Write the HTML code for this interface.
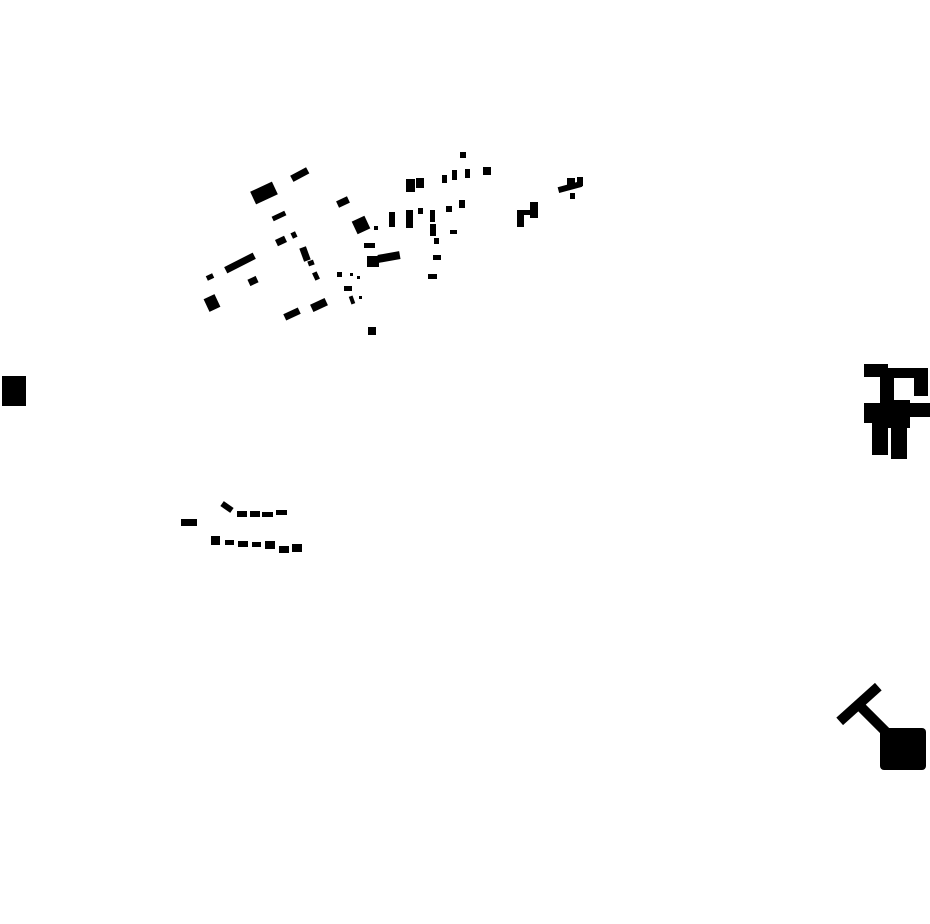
<!DOCTYPE html>
<html><head><style>html,body{margin:0;padding:0;background:#fff;}svg{display:block}</style></head>
<body>
<svg width="930" height="924" viewBox="0 0 930 924" xmlns="http://www.w3.org/2000/svg">
<g fill="#000">
<!-- main cluster -->
<rect x="-12" y="-7" width="24" height="14" transform="translate(264,193) rotate(-25)"/>
<rect x="-9" y="-4" width="18" height="7" transform="translate(300,175) rotate(-28)"/>
<rect x="-6" y="-3.5" width="12" height="7" transform="translate(343,202) rotate(-25)"/>
<rect x="-7" y="-2.5" width="14" height="5" transform="translate(279,216) rotate(-25)"/>
<rect x="-5" y="-3.5" width="10" height="7" transform="translate(281,241) rotate(-25)"/>
<rect x="-2.5" y="-3" width="5" height="6" transform="translate(294,235) rotate(-25)"/>
<rect x="-16" y="-3.5" width="32" height="7" transform="translate(240,263) rotate(-27)"/>
<rect x="-3.5" y="-2.5" width="7" height="5" transform="translate(210,277) rotate(-25)"/>
<rect x="-4.5" y="-3.5" width="9" height="7" transform="translate(253,281) rotate(-25)"/>
<rect x="-6" y="-7" width="12" height="14" transform="translate(212,303) rotate(-25)"/>
<rect x="-3.5" y="-7" width="7" height="14" transform="translate(305,254) rotate(-20)"/>
<rect x="-3" y="-2.5" width="6" height="5" transform="translate(311,263) rotate(-20)"/>
<rect x="-2.5" y="-4" width="5" height="8" transform="translate(316,276) rotate(-25)"/>
<rect x="-8" y="-3.5" width="16" height="7" transform="translate(292,314) rotate(-25)"/>
<rect x="-8" y="-4" width="16" height="8" transform="translate(319,305) rotate(-25)"/>
<rect x="-7" y="-7" width="14" height="14" transform="translate(361,225) rotate(-25)"/>
<rect x="374" y="226" width="4" height="4"/>
<rect x="364" y="243" width="11" height="5"/>
<rect x="367" y="256" width="12" height="11"/>
<rect x="-11" y="-4" width="22" height="8" transform="translate(389,257) rotate(-10)"/>
<rect x="337" y="272" width="5" height="5"/>
<rect x="350" y="273" width="3" height="3"/>
<rect x="357" y="276" width="3" height="3"/>
<rect x="344" y="286" width="8" height="5"/>
<rect x="-2" y="-4" width="4" height="8" transform="translate(352,300) rotate(-20)"/>
<rect x="359" y="296" width="3" height="3"/>
<rect x="368" y="327" width="8" height="8"/>
<rect x="389" y="212" width="6" height="15"/>
<rect x="406" y="210" width="7" height="18"/>
<rect x="418" y="208" width="5" height="6"/>
<rect x="430" y="210" width="5" height="12"/>
<rect x="430" y="224" width="6" height="12"/>
<rect x="434" y="238" width="5" height="6"/>
<rect x="446" y="206" width="6" height="6"/>
<rect x="459" y="200" width="6" height="8"/>
<rect x="450" y="230" width="7" height="4"/>
<rect x="433" y="255" width="8" height="5"/>
<rect x="428" y="274" width="9" height="5"/>
<rect x="406" y="179" width="9" height="13"/>
<rect x="416" y="178" width="8" height="10"/>
<rect x="442" y="175" width="5" height="8"/>
<rect x="452" y="170" width="5" height="10"/>
<rect x="465" y="169" width="5" height="9"/>
<rect x="460" y="152" width="6" height="6"/>
<rect x="483" y="167" width="8" height="8"/>
<rect x="517" y="210" width="7" height="17"/>
<rect x="520" y="210" width="16" height="5"/>
<rect x="530" y="202" width="8" height="16"/>
<rect x="-12" y="-3" width="24" height="6" transform="translate(570,187) rotate(-15)"/>
<rect x="567" y="178" width="8" height="10"/>
<rect x="577" y="177" width="6" height="9"/>
<rect x="570" y="193" width="5" height="6"/>
<!-- left edge -->
<rect x="2" y="376" width="24" height="30"/>
<!-- right top -->
<rect x="864" y="364" width="24" height="13"/>
<rect x="880" y="368" width="48" height="10"/>
<rect x="914" y="372" width="14" height="24"/>
<rect x="880" y="375" width="14" height="32"/>
<rect x="864" y="403" width="16" height="20"/>
<rect x="864" y="403" width="66" height="14"/>
<rect x="880" y="400" width="30" height="28"/>
<rect x="872" y="412" width="16" height="43"/>
<rect x="891" y="412" width="16" height="47"/>
<!-- bottom right -->
<rect x="-26" y="-5" width="52" height="10" transform="translate(859,704) rotate(-42)"/>
<rect x="-22" y="-5" width="44" height="10" transform="translate(873,719) rotate(45)"/>
<rect x="880" y="728" width="46" height="42" rx="4"/>
<!-- bottom left strips -->
<rect x="181" y="519" width="16" height="7"/>
<rect x="-6" y="-3" width="12" height="6" transform="translate(227,507) rotate(35)"/>
<rect x="237" y="511" width="10" height="6"/>
<rect x="250" y="511" width="10" height="6"/>
<rect x="262" y="512" width="11" height="5"/>
<rect x="276" y="510" width="11" height="5"/>
<rect x="211" y="536" width="9" height="9"/>
<rect x="225" y="540" width="9" height="5"/>
<rect x="238" y="541" width="10" height="6"/>
<rect x="252" y="542" width="9" height="5"/>
<rect x="265" y="541" width="10" height="8"/>
<rect x="279" y="546" width="10" height="7"/>
<rect x="292" y="544" width="10" height="8"/>
</g>
</svg>
</body></html>
